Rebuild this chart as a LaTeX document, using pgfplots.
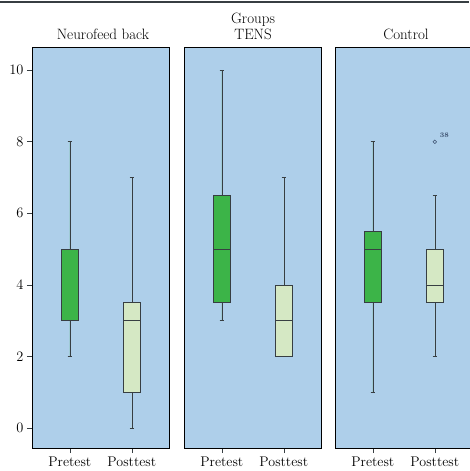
\documentclass[border=0pt]{standalone}
\usepackage{pgfplots}
\pgfplotsset{compat=1.18}
\usepgfplotslibrary{statistics}
\definecolor{bgblue}{RGB}{174,207,234}
\definecolor{boxgreen}{RGB}{60,180,72}
\definecolor{boxlight}{RGB}{213,232,196}
\definecolor{edge}{RGB}{55,62,66}
\definecolor{outl}{RGB}{60,80,110}
\pgfplotsset{
  panel/.style={
    anchor=south west, scale only axis, width=137pt, height=401pt,
    xmin=0.39, xmax=2.6, ymin=-0.56, ymax=10.65,
    axis background/.style={fill=bgblue},
    axis line style={draw=black, line width=0.7pt},
    xtick={1,2}, tick align=outside, major tick length=5pt,
    xtick pos=lower, ytick pos=left,
    x tick style={draw=edge, line width=0.6pt},
    y tick style={draw=edge, line width=0.6pt},
    ticklabel style={font=\fontsize{14}{16}\selectfont},
    boxplot/draw direction=y,
    boxplot/box extend=0.27,
    boxplot/whisker extend=0.07,
    clip=false,
  },
  pre/.style={fill=boxgreen, draw=edge, line width=0.6pt},
  post/.style={fill=boxlight, draw=edge, line width=0.6pt},
}
\begin{document}
\begin{tikzpicture}
\useasboundingbox (0pt,0pt) rectangle (469pt,471pt);
\draw[edge, line width=1.2pt] (0pt,469pt) -- (469pt,469pt);
% Panel 1
\begin{axis}[panel, at={(32pt,23pt)}, ytick={0,2,4,6,8,10}, xticklabels={Pretest,Posttest}]
\addplot[pre, boxplot prepared={lower whisker=2, lower quartile=3, median=5, upper quartile=5, upper whisker=8, draw position=1}] coordinates {};
\addplot[post, boxplot prepared={lower whisker=0, lower quartile=1, median=3, upper quartile=3.5, upper whisker=7, draw position=2}] coordinates {};
\end{axis}
% Panel 2
\begin{axis}[panel, at={(184pt,23pt)}, ytick=\empty, xticklabels={Pretest,Posttest}]
\addplot[pre, boxplot prepared={lower whisker=3, lower quartile=3.5, median=5, upper quartile=6.5, upper whisker=10, draw position=1}] coordinates {};
\addplot[post, boxplot prepared={lower whisker=2, lower quartile=2, median=3, upper quartile=4, upper whisker=7, draw position=2}] coordinates {};
\end{axis}
% Panel 3
\begin{axis}[panel, at={(335pt,23pt)}, ytick=\empty, xticklabels={Pretest,Posttest}]
\addplot[pre, boxplot prepared={lower whisker=1, lower quartile=3.5, median=5, upper quartile=5.5, upper whisker=8, draw position=1}] coordinates {};
\addplot[post, boxplot prepared={lower whisker=2, lower quartile=3.5, median=4, upper quartile=5, upper whisker=6.5, draw position=2}] coordinates {};
\addplot[only marks, mark=o, mark size=1.8pt, draw=outl, line width=0.5pt] coordinates {(2,8)};
\node[font=\fontsize{7}{8}\selectfont\bfseries, text=outl, anchor=south west, inner sep=0pt] at (axis cs:2.08,8.1) {38};
\end{axis}
\node[font=\fontsize{15}{17}\selectfont, anchor=base] at (253pt,447.5pt) {Groups};
\node[font=\fontsize{15}{17}\selectfont, anchor=base] at (103pt,431.5pt) {Neurofeed back};
\node[font=\fontsize{15}{17}\selectfont, anchor=base] at (253pt,431.5pt) {TENS};
\node[font=\fontsize{15}{17}\selectfont, anchor=base] at (406pt,431.5pt) {Control};
\end{tikzpicture}
\end{document}
